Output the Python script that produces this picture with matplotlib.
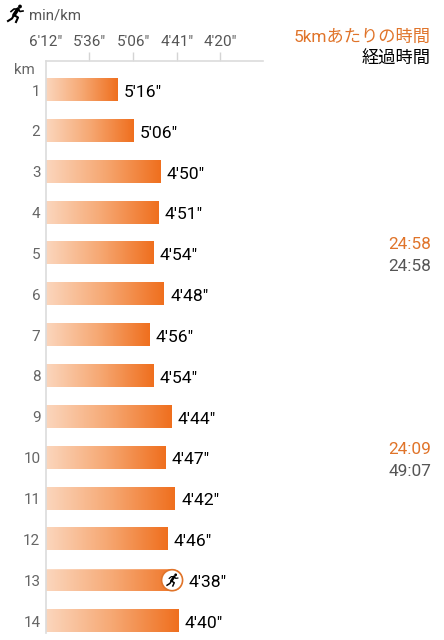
import matplotlib
matplotlib.use("Agg")
import matplotlib.pyplot as plt
import numpy as np
from matplotlib.colors import LinearSegmentedColormap
from matplotlib.patches import Circle, FancyBboxPatch

plt.rcParams['font.family'] = ['Roboto', 'Noto Sans CJK JP', 'DejaVu Sans']

# per km data, pace in seconds
km = list(range(1, 15))
pace_sec = [316, 306, 290, 291, 294, 288, 296, 294, 284, 287, 282, 286, 278, 280]
pace_labels = ["5'16\"", "5'06\"", "4'50\"", "4'51\"", "4'54\"", "4'48\"", "4'56\"",
               "4'54\"", "4'44\"", "4'47\"", "4'42\"", "4'46\"", "4'38\"", "4'40\""]

# top axis, bars are linear in speed
tick_sec = [372, 336, 306, 281, 260]
tick_labels = ["6'12\"", "5'36\"", "5'06\"", "4'41\"", "4'20\""]

# 5 km splits on the right
split_km = [5, 10]
split_time = ["24:58", "24:09"]
total_time = ["24:58", "49:07"]

ORANGE = "#e0742a"
W, H = 444, 640
STEP = 40.85

speed = 3600.0 / np.array(pace_sec)
tick_speed = 3600.0 / np.array(tick_sec)

fig = plt.figure(figsize=(W / 100, H / 100), dpi=100)
ax = fig.add_axes([46 / W, 1 - 632.5 / H, (263 - 46) / W, (632.5 - 61) / H])

# overlay in pixel coordinates for text and icons
ov = fig.add_axes([0, 0, 1, 1], zorder=5)
ov.set_xlim(0, W)
ov.set_ylim(H, 0)
ov.axis("off")

px13 = 46 + (speed[12] - tick_speed[0]) * 174 / (tick_speed[-1] - tick_speed[0])
py13 = 90 + 12 * STEP

cmap = LinearSegmentedColormap.from_list("bar", ["#fbd6bd", "#f6a873", "#ef6f1e"])
grad = np.linspace(0, 1, 256).reshape(1, -1)
for k, v, lab in zip(km, speed, pace_labels):
    y0, y1 = k - 0.27, k + 0.27
    im = ax.imshow(grad, extent=[tick_speed[0], v, y1, y0], cmap=cmap, aspect="auto", zorder=2)
    if k == 13:
        # current lap has the rounded end, left rounding is outside the bar
        clip = FancyBboxPatch((20, py13 - 11), px13 - 20, 22, boxstyle="round,pad=0,rounding_size=11",
                              transform=ov.transData, fc="none", ec="none")
        ov.add_patch(clip)
        im.set_clip_path(clip)
    ax.annotate(lab, (v, k + 0.02), xytext=(4.5, 0), textcoords="offset points", va="center_baseline",
                ha="left", fontsize=12.6, color="black", zorder=3)
ax.set_xlim(tick_speed[0], tick_speed[-1] + 43 * (tick_speed[-1] - tick_speed[0]) / 174)
ax.set_ylim(1 + (632.5 - 90) / STEP, 1 - 29 / STEP)

ax.xaxis.tick_top()
ax.set_xticks(tick_speed, labels=tick_labels)
ax.tick_params(axis="x", length=6.5, width=1, color="#d4d4d4", labelcolor="#555555",
               labelsize=11, pad=1.8)
ax.get_xticklines()[0].set_visible(False)
ax.get_xticklines()[1].set_visible(False)
ax.set_yticks(km)
ax.tick_params(axis="y", length=0, labelcolor="#666666", labelsize=11, pad=4)
for s in ["right", "bottom"]:
    ax.spines[s].set_visible(False)
for s in ["top", "left"]:
    ax.spines[s].set_color("#dcdcdc")
    ax.spines[s].set_linewidth(1.2)


def runner(cx, cy, s=1.0):
    # simple running figure
    ov.add_patch(Circle((cx + 5 * s, cy - 7.5 * s), 1.9 * s, fc="black", ec="none"))
    ov.plot([cx + 3 * s, cx - 1 * s], [cy - 5 * s, cy + 1 * s], color="black", lw=2.6 * s, solid_capstyle="round")
    ov.plot([cx - 1 * s, cx - 3 * s, cx - 7 * s], [cy + 1 * s, cy + 4.5 * s, cy + 7 * s], color="black", lw=1.5 * s)
    ov.plot([cx - 1 * s, cx + 3 * s, cx + 1 * s], [cy + 1 * s, cy + 3.5 * s, cy + 8 * s], color="black", lw=1.5 * s)
    ov.plot([cx + 3 * s, cx - 1 * s, cx - 4 * s], [cy - 5 * s, cy - 5 * s, cy - 2.5 * s], color="black", lw=1.2 * s)
    ov.plot([cx + 3 * s, cx + 5 * s, cx + 8 * s], [cy - 5 * s, cy - 2.5 * s, cy - 3 * s], color="black", lw=1.2 * s)


runner(15, 14)
ov.text(29, 15.5, "min/km", fontsize=10.8, color="#555555", va="center", ha="left")
ov.text(14, 70, "km", fontsize=10.8, color="#666666", va="center", ha="left")

ov.add_patch(Circle((px13 - 10.5, py13), 10.5, fc="white", ec=ORANGE, lw=1.2))
runner(px13 - 10.5, py13, 0.72)

ov.text(431, 37, "5kmあたりの時間", fontsize=12.4, color=ORANGE, ha="right", va="center")
ov.text(431, 59, "経過時間", fontsize=12.4, color="black", ha="right", va="center")
for k, a, b in zip(split_km, split_time, total_time):
    yc = 90 + (k - 1) * STEP
    ov.text(431, yc - 8.5, a, fontsize=12.4, color=ORANGE, ha="right", va="center")
    ov.text(431, yc + 13.5, b, fontsize=12.4, color="#555555", ha="right", va="center")

fig.savefig("out.png", dpi=100)
